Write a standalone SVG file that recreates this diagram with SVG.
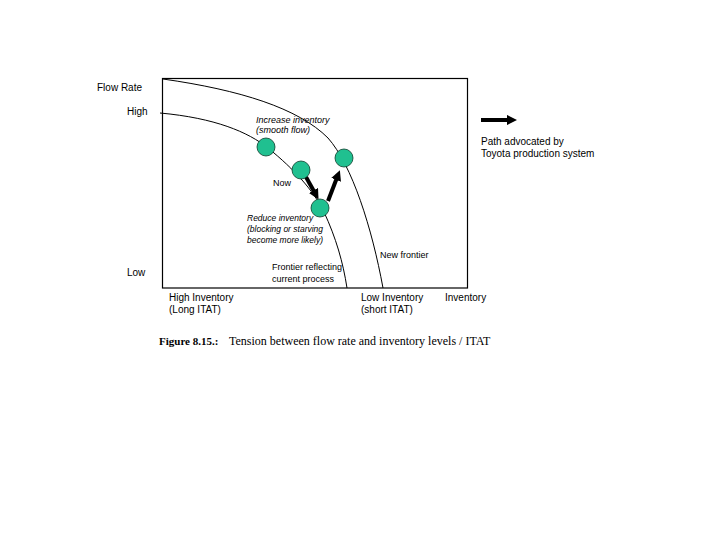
<svg xmlns="http://www.w3.org/2000/svg" width="720" height="540" viewBox="0 0 720 540">
<style>
.t{font-family:"Liberation Sans",Arial,sans-serif;font-size:10px;fill:#000}
.s{font-family:"Liberation Sans",Arial,sans-serif;font-size:9px;fill:#000}
.i{font-family:"Liberation Sans",Arial,sans-serif;font-size:8.5px;font-style:italic;fill:#000}
.c{font-family:"Liberation Serif","Times New Roman",serif;font-size:12px;fill:#000}
.curve{fill:none;stroke:#000;stroke-width:1}
.dot{fill:#20C090;stroke:#0b3d2c;stroke-width:0.8}
.arr{stroke:#000;stroke-width:4;fill:none;marker-end:url(#ah)}
</style>
<defs>
<marker id="ah" viewBox="0 0 10 10" refX="5" refY="5" markerWidth="2.6" markerHeight="2.6" orient="auto" markerUnits="strokeWidth">
<path d="M0,0 L10,5 L0,10 z" fill="#000"/>
</marker>
</defs>
<rect x="0" y="0" width="720" height="540" fill="#fff"/>
<g id="frame">
<rect x="162.5" y="78.5" width="305" height="209.5" fill="none" stroke="#000" stroke-width="1.2"/>
</g>
<g id="connectors">
<path class="curve" d="M160,113 C215,118 248,132 268,148 C295,170 313,190 324,212 C336,238 343,262 347,288"/>
<path class="curve" d="M163,79 C240,90 298,108 328,138 C352,165 372,228 383,288"/>
<line class="arr" x1="306" y1="177" x2="316" y2="195"/>
<line class="arr" x1="328" y1="201" x2="338" y2="175"/>
<line class="arr" x1="481" y1="120" x2="512" y2="120"/>
</g>
<g id="node-a"><circle class="dot" cx="266" cy="147" r="9"/></g>
<g id="node-now"><circle class="dot" cx="301" cy="170" r="9"/></g>
<g id="node-reduce"><circle class="dot" cx="320" cy="208" r="9"/></g>
<g id="node-new"><circle class="dot" cx="344" cy="158" r="9"/></g>
<g id="labels">
<text class="t" x="97" y="91">Flow Rate</text>
<text class="t" x="127" y="115">High</text>
<text class="t" x="127" y="276">Low</text>
<text class="i" x="256" y="123" style="font-size:9px">Increase inventory</text>
<text class="i" x="256" y="133" style="font-size:9px">(smooth flow)</text>
<text class="t" x="481" y="145">Path advocated by</text>
<text class="t" x="481" y="157">Toyota production system</text>
<text class="s" x="273" y="186">Now</text>
<text class="i" x="247" y="221">Reduce inventory</text>
<text class="i" x="247" y="232">(blocking or starving</text>
<text class="i" x="247" y="243">become more likely)</text>
<text class="s" x="380" y="258">New frontier</text>
<text class="s" x="272" y="270">Frontier reflecting</text>
<text class="s" x="272" y="282">current process</text>
<text class="t" x="169" y="301">High Inventory</text>
<text class="t" x="169" y="313">(Long ITAT)</text>
<text class="t" x="361" y="301">Low Inventory</text>
<text class="t" x="361" y="313">(short ITAT)</text>
<text class="t" x="445" y="301">Inventory</text>
<text class="c" x="159" y="345"><tspan font-weight="bold" font-size="11px">Figure 8.15.:</tspan> <tspan x="229">Tension between flow rate and inventory levels / ITAT</tspan></text>
</g>
</svg>
